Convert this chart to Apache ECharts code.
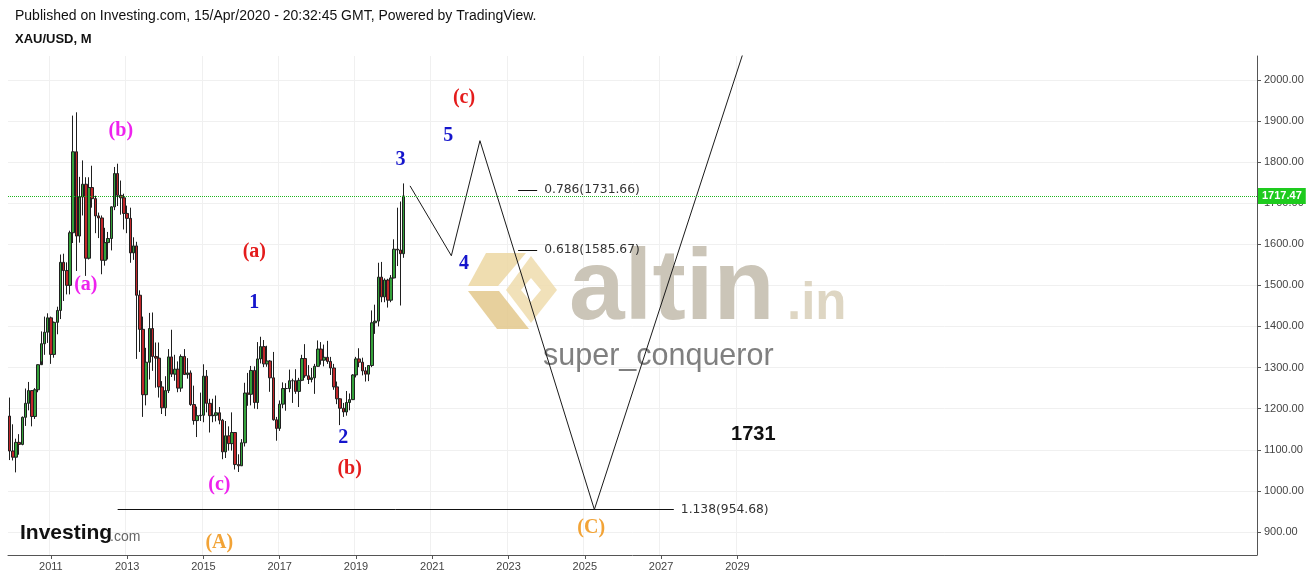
<!DOCTYPE html>
<html>
<head>
<meta charset="utf-8">
<script src="https://cdn.jsdelivr.net/npm/echarts@6/dist/echarts.min.js"></script>
<style>
html,body{margin:0;padding:0;background:#fff;}
#chart{width:1316px;height:580px;}
</style>
</head>
<body>
<div id="chart"></div>
<script>
// ---------- DATA ----------
// Monthly XAU/USD candles [open, close, low, high], starting Dec 2009
const firstYear = 2009, firstMonth = 12, monthCount = 393;
const gold = [
[1182,1097,1075,1227],
[1097,1082,1074,1162],[1082,1118,1045,1127],[1118,1113,1088,1138],[1113,1179,1111,1181],
[1179,1213,1158,1249],[1213,1244,1196,1265],[1244,1181,1157,1245],[1181,1246,1175,1250],
[1246,1307,1240,1308],[1307,1358,1315,1388],[1358,1386,1331,1424],[1386,1421,1360,1432],
[1421,1332,1309,1424],[1332,1410,1324,1412],[1410,1439,1381,1448],[1439,1556,1418,1575],
[1556,1536,1462,1577],[1536,1500,1478,1556],[1500,1628,1478,1633],[1628,1825,1603,1913],
[1825,1620,1535,1921],[1620,1715,1604,1764],[1715,1746,1670,1804],[1746,1566,1523,1763],
[1566,1738,1563,1763],[1738,1711,1689,1791],[1711,1669,1627,1718],[1669,1664,1615,1677],
[1664,1561,1527,1670],[1561,1604,1548,1640],[1604,1614,1563,1630],[1614,1691,1585,1692],
[1691,1772,1683,1788],[1772,1719,1693,1796],[1719,1713,1672,1755],[1713,1675,1636,1723],
[1675,1663,1627,1694],[1663,1579,1555,1689],[1579,1596,1562,1617],[1596,1476,1321,1606],
[1476,1393,1338,1488],[1393,1234,1180,1424],[1234,1313,1208,1348],[1313,1395,1271,1433],
[1395,1327,1292,1434],[1327,1323,1251,1361],[1323,1253,1227,1361],[1253,1202,1187,1267],
[1202,1244,1182,1279],[1244,1326,1238,1345],[1326,1284,1277,1392],[1284,1296,1268,1331],
[1296,1250,1240,1315],[1250,1327,1241,1332],[1327,1283,1282,1345],[1283,1287,1273,1323],
[1287,1210,1207,1293],[1210,1171,1161,1256],[1171,1183,1131,1205],[1183,1184,1170,1239],
[1184,1279,1167,1308],[1279,1213,1191,1294],[1213,1183,1142,1224],[1183,1184,1167,1224],
[1184,1190,1169,1232],[1190,1172,1162,1204],[1172,1095,1077,1175],[1095,1134,1080,1170],
[1134,1115,1098,1157],[1115,1142,1098,1191],[1142,1064,1052,1143],[1064,1061,1046,1089],
[1061,1117,1062,1126],[1117,1238,1108,1263],[1238,1235,1207,1287],[1235,1293,1208,1304],
[1293,1215,1200,1303],[1215,1321,1199,1362],[1321,1351,1310,1375],[1351,1309,1301,1367],
[1309,1316,1302,1353],[1316,1275,1241,1318],[1275,1173,1171,1338],[1173,1152,1122,1180],
[1152,1211,1146,1220],[1211,1249,1201,1264],[1249,1249,1195,1262],[1249,1268,1240,1295],
[1268,1268,1214,1273],[1268,1242,1236,1296],[1242,1269,1204,1275],[1269,1322,1267,1331],
[1322,1280,1275,1357],[1280,1271,1260,1306],[1271,1275,1264,1299],[1275,1303,1236,1309],
[1303,1345,1302,1366],[1345,1318,1307,1362],[1318,1325,1303,1356],[1325,1315,1309,1365],
[1315,1299,1282,1326],[1299,1253,1246,1309],[1253,1224,1211,1266],[1224,1201,1160,1225],
[1201,1192,1180,1214],[1192,1215,1183,1243],[1215,1222,1196,1237],[1222,1282,1221,1284],
[1282,1321,1276,1326],[1321,1313,1301,1347],[1313,1292,1281,1324],[1292,1284,1266,1301],
[1284,1305,1267,1306],[1305,1409,1301,1439],[1409,1413,1382,1453],[1413,1520,1400,1555],
[1520,1472,1459,1557],[1472,1513,1459,1517],[1513,1464,1446,1516],[1464,1518,1459,1525],
[1518,1588,1517,1612],[1588,1586,1547,1689],[1586,1577,1451,1704],[1577,1717.47,1567,1748]
];

// Price axis ticks and time axis labels
const yTicks = [900,1000,1100,1200,1300,1400,1500,1600,1700,1800,1900,2000];
const xTickLabels = ['2011','2013','2015','2017','2019','2021','2023','2025','2027','2029'];

// Projected wave path
const pathMonths = ['2020-06','2021-07','2022-04','2025-04','2029-07'];
const pathValues = [1742,1572,1852,954.68,2165];

// Fibonacci levels
const fibRatios = ['0.786','0.618','1.138'];
const fibValues = [1731.66,1585.67,954.68];
const fibStart = ['2023-04','2023-04','2012-10'];
const fibEnd = ['2023-10','2023-10','2027-05'];

// Wave labels
const minorMonths = ['2011-12','2012-11','2015-06'];
const minorValues = [1502,1877,1015];
const minorTexts = ['(a)','(b)','(c)'];
const interMonths = ['2016-05','2018-11','2021-11'];
const interValues = [1582,1054,1957];
const interTexts = ['(a)','(b)','(c)'];
const impulseMonths = ['2016-05','2018-09','2020-03','2021-11','2021-06'];
const impulseValues = [1458,1130,1806,1553,1865];
const impulseTexts = ['1','2','3','4','5'];
const primaryMonths = ['2015-06','2025-03'];
const primaryValues = [874,911];
const primaryTexts = ['(A)','(C)'];
const noteMonths = ['2029-06'];
const noteValues = [1137];
const noteTexts = ['1731'];

// ---------- BUILD ----------
const months = [];
for (let i = 0; i < monthCount; i++) {
  const t = (firstMonth - 1) + i;
  const y = firstYear + Math.floor(t / 12);
  const m = (t % 12) + 1;
  months.push(y + '-' + (m < 10 ? '0' + m : '' + m));
}
const tickSet = new Set(xTickLabels.map(y => y + '-01'));
const lastClose = gold[gold.length - 1][1];

function zip3(a, b, c) { return a.map((v, i) => [v, b[i], c[i]]); }
function labelSeries(name, ms, vs, ts, color, font, size) {
  return {
    name: name, type: 'scatter', data: zip3(ms, vs, ts),
    symbol: 'circle', symbolSize: 2, itemStyle: { color: 'rgba(0,0,0,0)', opacity: 1 }, z: 6, silent: true,
    label: {
      show: true, position: 'inside', formatter: p => p.value[2], opacity: 1,
      textBorderWidth: 0,
      color: color, fontFamily: font, fontWeight: 'bold', fontSize: size
    }
  };
}

const fibLines = fibValues.map((v, i) => [
  { coord: [fibStart[i], v] },
  { coord: [fibEnd[i], v], label: { formatter: fibRatios[i] + '(' + v.toFixed(2) + ')' } }
]);

const chart = echarts.init(document.getElementById('chart'), null, { renderer: 'canvas' });
chart.setOption({
  animation: false,
  backgroundColor: '#ffffff',
  title: [
    { text: 'Published on Investing.com, 15/Apr/2020 - 20:32:45 GMT, Powered by TradingView.',
      left: 15, top: 9, padding: 0,
      textStyle: { fontFamily: 'Liberation Sans, Arial', fontSize: 14, fontWeight: 'normal', color: '#111' } },
    { text: 'XAU/USD, M', left: 15, top: 33, padding: 0,
      textStyle: { fontFamily: 'Liberation Sans, Arial', fontSize: 13, fontWeight: 'bold', color: '#111' } }
  ],
  grid: { left: 8, right: 59, top: 56, bottom: 25 },
  xAxis: {
    type: 'category', data: months, boundaryGap: true,
    axisLine: { lineStyle: { color: '#555', width: 1 } },
    axisTick: { show: true, alignWithLabel: true, length: 4, interval: (i, v) => tickSet.has(v), lineStyle: { color: '#555' } },
    axisLabel: { interval: (i, v) => tickSet.has(v), formatter: v => v.slice(0, 4),
      color: '#444', fontSize: 11, fontFamily: 'Liberation Sans, Arial', margin: 6 },
    splitLine: { show: true, interval: (i, v) => tickSet.has(v), lineStyle: { color: '#f0f0f0', width: 1 } }
  },
  yAxis: {
    type: 'value', position: 'right', min: 844, max: 2058, scale: true,
    axisLine: { show: true, lineStyle: { color: '#555', width: 1 } },
    axisTick: { show: true, length: 4, customValues: yTicks, lineStyle: { color: '#555' } },
    axisLabel: { customValues: yTicks, formatter: v => v.toFixed(2), color: '#444', fontSize: 11,
      fontFamily: 'Liberation Sans, Arial', margin: 7 },
    splitLine: { show: true, lineStyle: { color: '#f0f0f0', width: 1 } }
  },
  graphic: [
    // altin.in watermark logo
    { type: 'polygon', z: 1, silent: true, shape: { points: [[486,253],[526,253],[498,286],[468,286]] }, style: { fill: '#ecd7a2', opacity: 0.85 } },
    { type: 'polygon', z: 1, silent: true, shape: { points: [[468,291],[499,291],[529,329],[497,329]] }, style: { fill: '#e3c88c', opacity: 0.85 } },
    { type: 'polygon', z: 1, silent: true, shape: { points: [[531,256],[557,290],[531,323],[506,290]] }, style: { fill: '#efdcad', opacity: 0.85 } },
    { type: 'polygon', z: 1, silent: true, shape: { points: [[531,278],[541,290],[531,302],[521,290]] }, style: { fill: '#ffffff' } },
    { type: 'text', z: 1, silent: true, left: 569, top: 241,
      style: { text: 'altin', fontFamily: 'Liberation Sans, Arial', fontWeight: 'bold', fontSize: 100, fill: '#cbc5b8' } },
    { type: 'text', z: 1, silent: true, left: 787, top: 279,
      style: { text: '.in', fontFamily: 'Liberation Sans, Arial', fontWeight: 'bold', fontSize: 51, fill: '#ded6c3' } },
    { type: 'text', z: 1, silent: true, left: 543, top: 341,
      style: { text: 'super_conqueror', fontFamily: 'Liberation Sans, Arial', fontSize: 30.5, fill: '#7f7f7f' } },
    // Investing.com logo
    { type: 'text', z: 5, silent: true, left: 20, top: 523,
      style: { text: 'Investing', fontFamily: 'Liberation Sans, Arial', fontWeight: 'bold', fontSize: 21, fill: '#111' } },
    { type: 'text', z: 5, silent: true, left: 110, top: 530,
      style: { text: '.com', fontFamily: 'Liberation Sans, Arial', fontSize: 14, fill: '#666' } }
  ],
  series: [
    {
      name: 'XAU/USD', type: 'candlestick', data: gold, barWidth: 3, z: 3,
      itemStyle: { color: '#34a13a', color0: '#c0262a', borderColor: '#1f1f1f', borderColor0: '#1f1f1f', borderWidth: 1 },
      markLine: {
        silent: true, symbol: 'none', animation: false,
        lineStyle: { color: '#1fb51f', type: 'dotted', width: 1 },
        label: { show: true, position: 'end', distance: 1, formatter: () => lastClose.toFixed(2),
          backgroundColor: '#1ecb1e', color: '#fff', fontWeight: 'bold', fontSize: 11,
          fontFamily: 'Liberation Sans, Arial', padding: [3, 4, 2, 4] },
        data: [{ yAxis: lastClose }]
      }
    },
    {
      name: 'Projection', type: 'line', data: pathMonths.map((m, i) => [m, pathValues[i]]),
      symbol: 'none', z: 4, clip: true, silent: true,
      lineStyle: { color: '#1a1a1a', width: 1 },
      markLine: {
        silent: true, symbol: 'none', animation: false,
        lineStyle: { color: '#111', type: 'solid', width: 1 },
        label: { show: true, position: 'end', distance: 7, color: '#333', fontSize: 12.3,
          fontFamily: 'DejaVu Sans, Verdana' },
        data: fibLines
      }
    },
    labelSeries('minor', minorMonths, minorValues, minorTexts, '#ee22ee', 'Liberation Serif, Times New Roman', 20),
    labelSeries('intermediate', interMonths, interValues, interTexts, '#e41c1c', 'Liberation Serif, Times New Roman', 20),
    labelSeries('impulse', impulseMonths, impulseValues, impulseTexts, '#1515cc', 'Liberation Serif, Times New Roman', 20),
    labelSeries('primary', primaryMonths, primaryValues, primaryTexts, '#f2a336', 'Liberation Serif, Times New Roman', 20),
    labelSeries('note', noteMonths, noteValues, noteTexts, '#111111', 'Liberation Sans, Arial', 20)
  ]
});
</script>
</body>
</html>
